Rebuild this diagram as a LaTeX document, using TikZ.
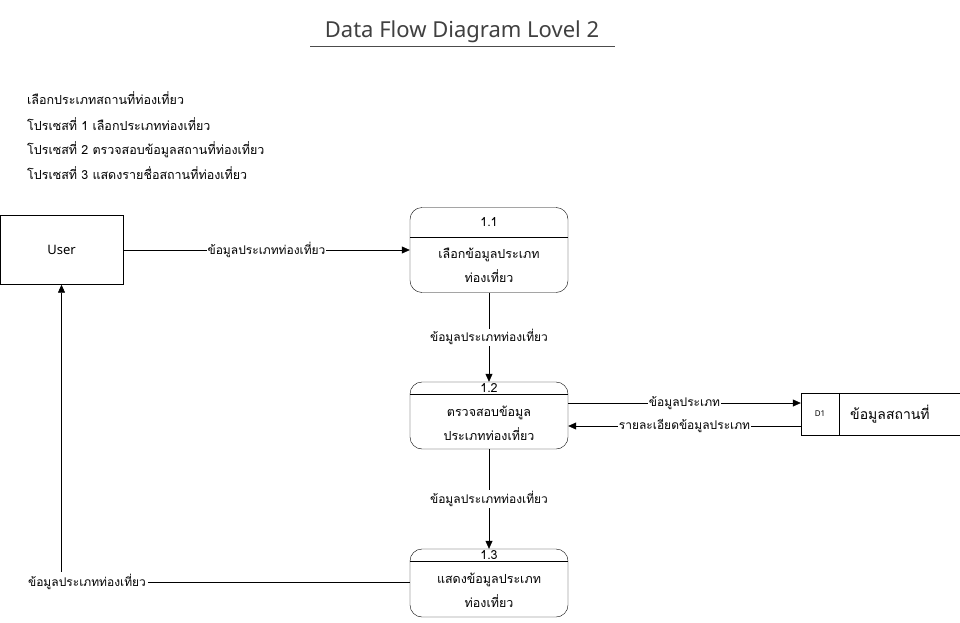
\documentclass[tikz,border=0pt]{standalone}
\usepackage{fontspec}
\setmainfont{Noto Sans}
\newfontfamily\thai[Script=Thai]{Loma}
\usetikzlibrary{arrows.meta}
\begin{document}
\begin{tikzpicture}[x=1pt,y=-1pt,
  proc/.style={draw, rounded corners=12pt, minimum width=158pt, inner sep=0pt},
  ext/.style={draw, minimum width=123pt, minimum height=69pt, inner sep=0pt},
  flow/.style={-{Triangle[length=8pt,width=7pt]}, line width=0.6pt},
  lbl/.style={fill=white, inner sep=1pt, font=\thai\fontsize{12}{14}\selectfont},
  ptxt/.style={font=\thai\fontsize{12.5}{24}\selectfont, align=center, inner sep=0pt},
  htxt/.style={font=\thai\fontsize{12.5}{15}\selectfont, anchor=base west, inner sep=0pt}]
\useasboundingbox (0,0) rectangle (960,623);
\fill[white] (0,0) rectangle (960,623);
% title
\node[font=\fontsize{22}{26}\selectfont, text=black!75, inner sep=0pt] (title) at (462,32) {Data Flow Diagram Lovel 2};
\draw[black!70, line width=0.8pt] (310,46) coordinate (ul1) -- (615,46) coordinate (ul2);
% header lines
\node[htxt] (h1) at (27,104.5) {เลือกประเภทสถานที่ท่องเที่ยว};
\node[htxt] (h2) at (27,130) {โปรเซสที่ 1 เลือกประเภทท่องเที่ยว};
\node[htxt] (h3) at (27,154.5) {โปรเซสที่ 2 ตรวจสอบข้อมูลสถานที่ท่องเที่ยว};
\node[htxt] (h4) at (27,179) {โปรเซสที่ 3 แสดงรายชื่อสถานที่ท่องเที่ยว};
% external entity
\node[ext, font=\fontsize{13}{15}\selectfont] (user) at (61.5,250) {User};
% processes
\node[proc, minimum height=85pt] (p11) at (489,250) {};
\draw ([yshift=-30pt]p11.north west) -- ([yshift=-30pt]p11.north east);
\node[ptxt] (p11n) at (489,222) {1.1};
\node[ptxt] (p11t) at (489,265) {เลือกข้อมูลประเภท\\ท่องเที่ยว};

\node[proc, minimum height=67pt] (p12) at (489,415.5) {};
\draw ([yshift=-12pt]p12.north west) -- ([yshift=-12pt]p12.north east);
\node[ptxt] (p12n) at (489,388) {1.2};
\node[ptxt] (p12t) at (489,423) {ตรวจสอบข้อมูล\\ประเภทท่องเที่ยว};

\node[proc, minimum height=68pt] (p13) at (489,583) {};
\draw ([yshift=-12pt]p13.north west) -- ([yshift=-12pt]p13.north east);
\node[ptxt] (p13n) at (489,555) {1.3};
\node[ptxt] (p13t) at (489,590) {แสดงข้อมูลประเภท\\ท่องเที่ยว};

% data store
\node[minimum width=159pt, minimum height=42pt, inner sep=0pt] (d1) at (880.5,414) {};
\draw (d1.north east) -- (d1.north west) -- (d1.south west) -- (d1.south east);
\draw ([xshift=38pt]d1.north west) coordinate (dv1) -- ([xshift=38pt]d1.south west) coordinate (dv2);
\node[font=\fontsize{8}{10}\selectfont, inner sep=0pt] (d1id) at (820,414) {D1};
\node[font=\thai\fontsize{14}{16}\selectfont, inner sep=0pt, anchor=west] (d1t) at (850,414) {ข้อมูลสถานที่};

% flows
\draw[flow] (user.east) -- node[lbl, pos=0.5] {ข้อมูลประเภทท่องเที่ยว} (p11.west);
\draw[flow] (p11.south) -- node[lbl] {ข้อมูลประเภทท่องเที่ยว} (p12.north);
\draw[flow] (p12.south) -- node[lbl] {ข้อมูลประเภทท่องเที่ยว} (p13.north);
\draw[flow] (p12.east |- 0,403) -- node[lbl] {ข้อมูลประเภท} (d1.west |- 0,403);
\draw[flow] (d1.west |- 0,426) -- node[lbl] {รายละเอียดข้อมูลประเภท} (p12.east |- 0,426);
\draw[flow] (p13.west |- 0,582) -- (user.south |- 0,582) coordinate (corner) -- (user.south);
\node[lbl, inner sep=2pt] (ret) at (87,582) {ข้อมูลประเภทท่องเที่ยว};
\end{tikzpicture}
\end{document}
